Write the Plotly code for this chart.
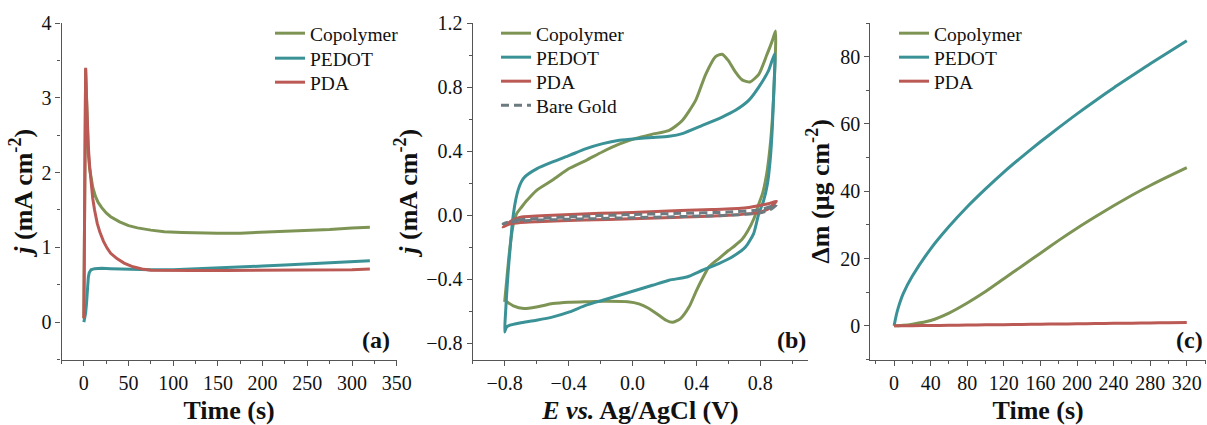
import plotly.graph_objects as go

# ---------------- Panel (a): chronoamperometry ----------------
t_cop_a = [0, 1, 2, 3, 4, 5, 6.5, 8, 10, 13, 16, 20, 25, 30, 40, 50, 60, 75, 90, 110, 130, 150, 175, 200, 225, 250, 275, 300, 320]
j_cop_a = [0.05, 1.5, 3.38, 3.0, 2.5, 2.25, 2.05, 1.92, 1.80, 1.68, 1.60, 1.53, 1.46, 1.41, 1.34, 1.29, 1.26, 1.23, 1.21, 1.20, 1.19, 1.19, 1.19, 1.20, 1.21, 1.22, 1.24, 1.26, 1.27]

t_ped_a = [0, 1, 2, 3, 4, 5, 6, 8, 12, 20, 30, 50, 75, 100, 125, 150, 175, 200, 225, 250, 275, 300, 320]
j_ped_a = [0.0, 0.05, 0.12, 0.25, 0.45, 0.60, 0.66, 0.70, 0.715, 0.72, 0.715, 0.705, 0.70, 0.70, 0.71, 0.72, 0.735, 0.75, 0.765, 0.78, 0.795, 0.81, 0.82]

t_pda_a = [0, 1, 2, 3, 4, 5, 6.5, 8, 10, 12, 15, 18, 22, 26, 30, 37, 45, 55, 65, 75, 90, 120, 160, 200, 250, 300, 320]
j_pda_a = [0.05, 1.6, 3.40, 3.0, 2.6, 2.35, 2.08, 1.85, 1.65, 1.50, 1.32, 1.20, 1.08, 0.99, 0.92, 0.85, 0.79, 0.74, 0.71, 0.695, 0.69, 0.69, 0.69, 0.69, 0.69, 0.70, 0.71]

# ---------------- Panel (b): cyclic voltammetry ----------------
E_cop = [-0.80, -0.785, -0.767, -0.745, -0.725, -0.695, -0.663, -0.60, -0.50, -0.40, -0.29, -0.19, -0.08, 0.02, 0.12, 0.23,
         0.31, 0.395, 0.458, 0.52, 0.56, 0.60, 0.64, 0.686, 0.735, 0.79, 0.84, 0.875, 0.895,
         0.888, 0.875, 0.86, 0.84, 0.815, 0.79, 0.76, 0.72, 0.686, 0.64, 0.60, 0.54, 0.48, 0.44, 0.40, 0.355, 0.30,
         0.25, 0.21, 0.167, 0.10, 0.04, -0.03, -0.186, -0.30, -0.40, -0.50, -0.60, -0.68, -0.746, -0.80]
j_cop = [-0.54, -0.38, -0.20, -0.05, 0.01, 0.05, 0.09, 0.156, 0.22, 0.29, 0.343, 0.395, 0.445, 0.48, 0.505, 0.53,
         0.59, 0.717, 0.88, 0.99, 1.005, 0.965, 0.90, 0.845, 0.832, 0.88, 1.0, 1.09, 1.15,
         0.85, 0.60, 0.42, 0.26, 0.14, 0.07, -0.02, -0.10, -0.15, -0.19, -0.22, -0.27, -0.32, -0.39, -0.47, -0.57, -0.645,
         -0.668, -0.655, -0.625, -0.58, -0.553, -0.54, -0.537, -0.54, -0.542, -0.551, -0.572, -0.582, -0.565, -0.53]

E_ped = [-0.80, -0.795, -0.788, -0.778, -0.767, -0.755, -0.745, -0.73, -0.715, -0.695, -0.674, -0.60, -0.50, -0.394, -0.29,
         -0.186, -0.082, 0.022, 0.125, 0.229, 0.312, 0.437, 0.561, 0.644, 0.727, 0.79, 0.852, 0.89,
         0.885, 0.875, 0.862, 0.845, 0.82, 0.79, 0.758, 0.707, 0.623, 0.54, 0.437, 0.34, 0.229, 0.125, 0.022, -0.082,
         -0.186, -0.29, -0.394, -0.497, -0.601, -0.705, -0.767, -0.79, -0.80]
j_ped = [-0.728, -0.62, -0.50, -0.35, -0.22, -0.08, 0.01, 0.10, 0.16, 0.21, 0.24, 0.29, 0.333, 0.374, 0.416,
         0.447, 0.468, 0.478, 0.485, 0.493, 0.51, 0.561, 0.613, 0.655, 0.717, 0.80, 0.905, 1.009,
         0.80, 0.55, 0.35, 0.20, 0.09, 0.01, -0.114, -0.198, -0.26, -0.301, -0.343, -0.385, -0.405, -0.437, -0.468, -0.499,
         -0.53, -0.561, -0.603, -0.634, -0.655, -0.672, -0.686, -0.70, -0.728]

E_pda = [-0.81, -0.75, -0.70, -0.50, -0.20, 0.0, 0.30, 0.50, 0.70, 0.78, 0.85, 0.90,
         0.88, 0.85, 0.78, 0.60, 0.30, 0.0, -0.30, -0.60, -0.70, -0.77, -0.81]
j_pda = [-0.073, -0.03, -0.012, 0.0, 0.012, 0.018, 0.03, 0.036, 0.045, 0.058, 0.072, 0.088,
         0.065, 0.04, 0.015, 0.0, -0.012, -0.022, -0.03, -0.04, -0.045, -0.055, -0.073]

E_au = [-0.81, -0.72, -0.40, 0.0, 0.30, 0.60, 0.80, 0.90,
        0.86, 0.80, 0.60, 0.30, 0.0, -0.30, -0.60, -0.75, -0.81]
j_au = [-0.052, -0.03, -0.01, 0.005, 0.012, 0.02, 0.035, 0.065,
        0.035, 0.015, 0.0, -0.008, -0.015, -0.022, -0.03, -0.04, -0.052]

# ---------------- Panel (c): mass change ----------------
t_c = [0, 2.5, 5, 10, 20, 40, 60, 80, 100, 120, 140, 160, 180, 200, 220, 240, 260, 280, 300, 320]
m_cop = [0, 0.02, 0.05, 0.15, 0.5, 1.6, 3.8, 6.8, 10.2, 14.0, 17.8, 21.6, 25.4, 29.0, 32.4, 35.7, 38.8, 41.7, 44.4, 47.0]
m_ped = [0, 3.3, 5.8, 9.6, 14.8, 22.9, 29.5, 35.4, 40.7, 45.7, 50.3, 54.7, 58.9, 63.0, 66.9, 70.7, 74.3, 77.9, 81.3, 84.7]
m_pda = [0, 0.005, 0.01, 0.02, 0.05, 0.1, 0.17, 0.23, 0.3, 0.36, 0.42, 0.48, 0.55, 0.61, 0.67, 0.74, 0.80, 0.86, 0.93, 1.0]

names = ["Copolymer", "PEDOT", "PDA", "Bare Gold"]
C_GREEN = "#7d9455"
C_TEAL = "#3a9296"
C_RED = "#bb5a55"
C_GRAY = "#6d7b80"
LW = 3

FONT = "Liberation Serif"
W, H = 1207, 425
fig = go.Figure()

leg_common = dict(font=dict(family=FONT, size=19.5, color="#111"), bgcolor="rgba(0,0,0,0)",
                  xanchor="left", yanchor="top", tracegroupgap=0, borderwidth=0)
legend_layout = {}
counter = [0]

def add(x, y, name, color, xa, ya, text_x, row_y, dash="solid", shape="linear"):
    counter[0] += 1
    key = "legend" if counter[0] == 1 else f"legend{counter[0]}"
    legend_layout[key] = dict(leg_common, x=(text_x - 38) / W, y=1 - (row_y - 20) / H)
    fig.add_trace(go.Scatter(x=x, y=y, name=name, mode="lines",
                             line=dict(color=color, width=LW, dash=dash, shape=shape, smoothing=0.6),
                             xaxis=xa, yaxis=ya, legend=key))

add(t_cop_a, j_cop_a, names[0], C_GREEN, "x", "y", 308, 34)
add(t_ped_a, j_ped_a, names[1], C_TEAL, "x", "y", 308, 59)
add(t_pda_a, j_pda_a, names[2], C_RED, "x", "y", 308, 83)

add(E_cop, j_cop, names[0], C_GREEN, "x2", "y2", 534, 34, shape="spline")
add(E_ped, j_ped, names[1], C_TEAL, "x2", "y2", 534, 58, shape="spline")
add(E_pda, j_pda, names[2], C_RED, "x2", "y2", 534, 82, shape="spline")
add(E_au, j_au, names[3], C_GRAY, "x2", "y2", 534, 106, dash="8px,5px", shape="spline")

add(t_c, m_cop, names[0], C_GREEN, "x3", "y3", 932, 34, shape="spline")
add(t_c, m_ped, names[1], C_TEAL, "x3", "y3", 932, 58, shape="spline")
add(t_c, m_pda, names[2], C_RED, "x3", "y3", 932, 82, shape="spline")

ytop, ybot = 23, 359.5
ydom = [(H - ybot) / H, (H - ytop) / H]

axis_common = dict(showline=True, linecolor="#555", linewidth=1.2, ticks="outside", ticklen=5,
                   tickwidth=1.2, tickcolor="#555", showgrid=False, zeroline=False, mirror=False,
                   automargin=False,
                   tickfont=dict(family=FONT, size=20, color="#111"))
title_font = dict(family=FONT, size=26, color="#111")

def xax(dom, rng, dtick, minor, title, anchor, fmt=None):
    d = dict(axis_common)
    d.update(domain=dom, range=rng, dtick=dtick, tick0=0, anchor=anchor,
             minor=dict(ticks="outside", ticklen=3, tickwidth=1.2, tickcolor="#555", dtick=minor, tick0=0),
             title=dict(text=title, font=title_font, standoff=13))
    if fmt:
        d["tickformat"] = fmt
    return d

def yax(rng, dtick, minor, title, anchor, standoff, fmt=None):
    d = dict(axis_common)
    d.update(domain=ydom, range=rng, dtick=dtick, tick0=0, anchor=anchor,
             minor=dict(ticks="outside", ticklen=3, tickwidth=1.2, tickcolor="#555", dtick=minor, tick0=0),
             title=dict(text=title, font=title_font, standoff=standoff))
    if fmt:
        d["tickformat"] = fmt
    return d

jt = "<b><i>j</i> (mA cm<sup>-2</sup>)</b>"
fig.update_layout(
    template="none",
    width=W, height=H, margin=dict(l=0, r=0, t=0, b=0, pad=0, autoexpand=False),
    paper_bgcolor="white", plot_bgcolor="white", showlegend=True,
    font=dict(family=FONT, size=19, color="#111"),
    xaxis=xax([61.5 / W, 396.7 / W], [-25, 350], 50, 25, "<b>Time (s)</b>", "y"),
    yaxis=yax([-0.5, 4.0], 1, 0.5, jt, "x", 1),
    xaxis2=xax([472.7 / W, 808.3 / W], [-1.0, 1.1], 0.4, 0.2, "<b><i>E vs.</i> Ag/AgCl (V)</b>", "y2", ".1f"),
    yaxis2=yax([-0.9, 1.2], 0.4, 0.2, jt, "x2", 1, ".1f"),
    xaxis3=xax([870.3 / W, 1206 / W], [-26, 341], 40, 20, "<b>Time (s)</b>", "y3"),
    yaxis3=yax([-10, 90], 20, 10, "<b>Δm (μg cm<sup>-2</sup>)</b>", "x3", 3),
)
fig.update_layout(**legend_layout)

lab_font = dict(family=FONT, size=24, color="#111")
for lab, xr, yr, xpos in [("(a)", "x domain", "y domain", 0.985), ("(b)", "x2 domain", "y2 domain", 0.998),
                          ("(c)", "x3 domain", "y3 domain", 0.996)]:
    fig.add_annotation(text=f"<b>{lab}</b>", xref=xr, yref=yr, x=xpos, y=0.058,
                       xanchor="right", yanchor="middle", showarrow=False, font=lab_font)

fig.write_html("out.html", config={"displayModeBar": False},
               post_script="document.body.style.margin='0px';document.body.style.overflow='hidden';")
